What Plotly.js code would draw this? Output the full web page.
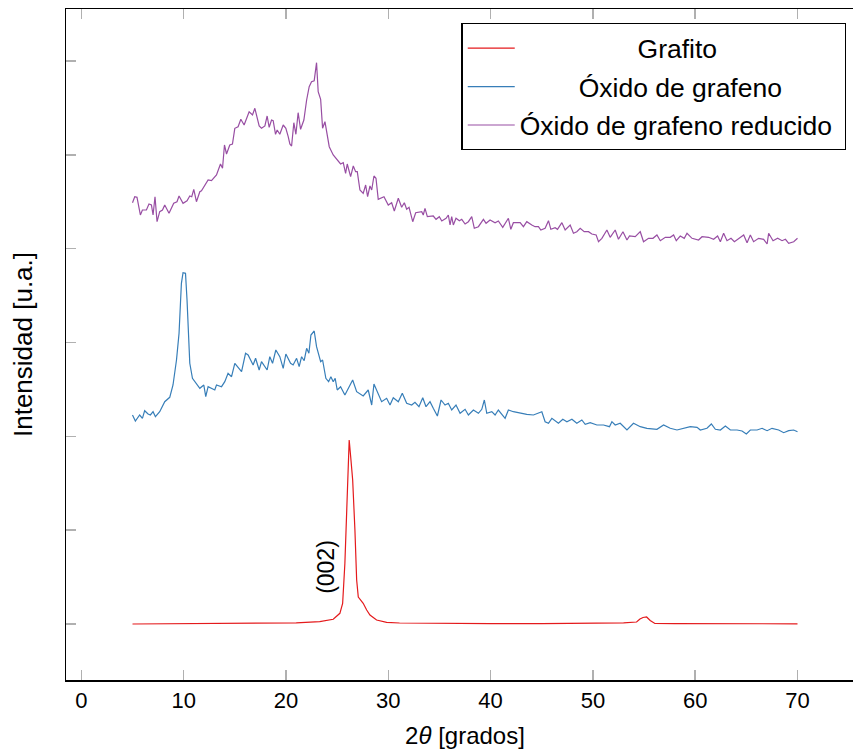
<!DOCTYPE html>
<html>
<head>
<meta charset="utf-8">
<script src="https://cdn.plot.ly/plotly-3.0.1.min.js"></script>
<style>
html,body{margin:0;padding:0;overflow:hidden;background:#fff;}
#chart{width:875px;height:753px;}
</style>
</head>
<body>
<div id="chart"></div>
<script>
// 2θ (degrees) and intensity (arbitrary units, series stacked with offsets)
const grafitoX = [5.0, 8, 12, 16, 18.4, 21, 23.3, 24.62, 25.27, 25.54, 25.76, 25.99, 26.18, 26.32, 26.52, 26.74, 26.91, 27.07, 27.3, 27.55, 27.89, 28.21, 28.86, 29.84, 31.1, 35, 40, 45, 50, 53, 54.27, 54.6, 54.9, 55.25, 55.6, 56.06, 58, 62, 66, 70];
const grafitoY = [0, 0.3, 0.5, 0.6, 0.7, 1.2, 2.3, 4.7, 10.7, 20.7, 60.7, 127, 184, 168, 144, 94, 44, 27, 24, 20.7, 14, 9, 4, 1.7, 1.0, 0.6, 0.4, 0.4, 0.6, 1.2, 2, 5, 6.5, 7, 3.5, 0.5, 0.3, 0.2, 0.2, 0.2];

const goX = [5.0, 5.28, 5.70, 5.97, 6.19, 6.52, 6.75, 7.01, 7.24, 7.66, 8.15, 8.64, 8.96, 9.30, 9.55, 9.78, 9.94, 10.18, 10.33, 10.60, 10.86, 11.25, 11.58, 11.97, 12.16, 12.39, 13.04, 13.21, 13.70, 14.02, 14.34, 14.68, 15.00, 15.66, 16.05, 16.30, 16.79, 17.03, 17.38, 17.61, 17.94, 18.16, 18.42, 18.69, 19.01, 19.40, 19.73, 19.99, 20.45, 20.70, 21.04, 21.29, 21.53, 21.78, 22.02, 22.24, 22.44, 22.76, 22.99, 23.39, 23.58, 23.90, 24.17, 24.39, 24.62, 24.81, 25.01, 25.34, 25.76, 26.09, 26.52, 26.91, 27.55, 28.04, 28.38, 28.60, 29.02, 29.35, 29.84, 30.17, 30.49, 30.98,
  31.37, 31.80, 32.29, 32.61, 33.00, 33.37, 33.69, 34.08, 34.40, 34.80, 35.16, 35.55, 35.87, 36.20, 36.62, 37.02, 37.51, 37.83, 38.32, 38.81, 39.14, 39.39, 39.63, 40.12, 40.44, 40.76, 41.42, 41.74, 42.23, 42.89, 43.54, 44.19, 44.68, 45.01, 45.33, 45.66, 45.99, 46.31, 46.63, 47.06, 47.46, 47.95, 48.43, 48.92, 49.25, 49.74, 50.39, 51.04, 51.62, 51.86, 52.18, 52.67, 53.33, 53.97, 54.63, 55.28, 56.26, 56.91, 57.56, 58.22, 58.86, 59.52, 60.18, 60.50, 61.15, 61.58, 61.97, 62.46, 62.95, 63.44, 64.09, 64.58, 65.00, 65.39, 66.05, 66.54, 67.03, 67.51, 68.16, 68.65, 69.14, 69.63, 70.0];
const goY = [209, 203, 209, 205.7, 213.3, 210, 209, 212.3, 207.3, 212.3, 222.3, 226.7, 239, 264, 290.7, 340.7, 351.3, 350.7, 324, 260.7, 245.7, 240.7, 235.7, 239, 227.3, 237.3, 234, 239, 237.3, 242.3, 250.7, 247.3, 260.7, 252.3, 270.7, 269, 259, 265.7, 254, 262.3, 257.3, 254, 267.3, 260.7, 274, 267.3, 255.7, 270, 260.7, 259, 265.7, 257.3, 267.3, 263.3, 275.7, 270.7, 289, 293, 277.3, 262.3, 264, 245.7, 242.3, 247.3, 242.3, 245.7, 234, 237.3, 229, 235.7, 244, 232.3, 228, 234, 219, 240, 230.7, 222.3, 225.7, 219, 226.3, 222.3,
  230.7, 220.7, 219, 221.7, 217.3, 226.3, 217.3, 222.3, 215.7, 208, 224, 219, 220.7, 214, 219, 210.7, 214.7, 209, 214, 210.7, 214.7, 224, 210.7, 212.3, 209, 214, 205.7, 214, 212.3, 210.7, 209.7, 209, 210.7, 212.3, 202.3, 200.7, 205.7, 203, 200.7, 204.7, 202.3, 204.7, 200.7, 204, 199.7, 201.3, 199, 199, 197.3, 202.3, 199, 200.7, 194, 200.7, 197.3, 195.7, 194.7, 199, 195.7, 194, 195.7, 197.3, 196.7, 194, 195.7, 200, 194.7, 194, 198, 194, 194, 193, 190, 194, 194, 195.7, 193.3, 195.7, 194, 191.3, 193.3, 194, 192.3];

const rgoX = [5.0, 5.22, 5.44, 5.77, 5.97, 6.36, 6.61, 6.85, 7.01, 7.20, 7.40, 7.66, 7.93, 8.15, 8.57, 9.03, 9.35, 9.55, 9.94, 10.33, 10.60, 10.79, 10.99, 11.25, 11.58, 11.74, 12.39, 12.72, 13.21, 13.60, 13.80, 13.99, 14.19, 14.51, 14.77, 15.00, 15.32, 15.59, 15.91, 16.24, 16.40, 16.73, 16.96, 17.38, 17.61, 17.94, 18.16, 18.36, 18.59, 18.75, 18.98, 19.14, 19.40, 19.73, 19.99, 20.22, 20.38, 20.55, 20.77, 20.97, 21.19, 21.43, 21.75, 22.02, 22.27, 22.50, 22.76, 22.99, 23.15, 23.39, 23.58, 23.81, 24.23, 24.62, 25.01, 25.34, 25.60, 25.83, 25.99, 26.32, 26.58, 26.81, 26.97, 27.23, 27.55, 27.79, 27.98, 28.21, 28.38, 28.60, 28.80, 29.02,
  29.58, 30.00, 30.33, 30.59, 30.98, 31.31, 31.57, 31.80, 32.03, 32.39, 32.68, 33.27, 33.42, 33.59, 33.82, 34.40, 34.67, 34.99, 35.23, 35.65, 35.87, 36.04, 36.20, 36.36, 36.62, 36.95, 37.18, 37.51, 37.83, 38.16, 38.41, 38.81, 39.30, 39.56, 39.95, 40.44, 40.76, 41.19, 41.74, 41.98, 42.23, 42.89, 43.21, 43.54, 44.03, 44.35, 44.68, 44.91, 45.33, 45.66, 45.89, 46.31, 46.54, 46.97, 47.29, 47.78, 48.10, 48.43, 48.76, 49.15, 49.57, 49.90, 50.32, 50.55, 50.88, 51.37, 51.69, 52.18, 52.50, 52.94, 53.33, 53.58, 54.14, 54.63, 54.95, 55.44, 55.87, 56.26, 56.59, 57.08, 57.56, 57.89, 58.15, 58.54, 58.93, 59.20, 59.69, 60.33, 60.67, 61.31, 61.80, 62.19, 62.46, 62.78, 63.11, 63.50, 63.83, 64.25, 64.74, 65.07, 65.39, 65.71, 66.20, 66.69, 67.03, 67.18, 67.61, 68.06, 68.49, 68.82, 69.14, 69.63, 70.0];
const rgoY = [421.3, 427.3, 426.7, 409, 414, 414, 420, 419, 409, 427.3, 402.3, 412.3, 414, 419, 410.7, 420.7, 422.3, 428, 420.7, 423.3, 428, 427.3, 434.7, 422.3, 432.3, 433.3, 444, 443.3, 449, 460, 455.7, 479, 470, 479, 480, 495.7, 497.3, 504.7, 499, 509, 512.3, 509, 515.7, 498, 495.7, 498, 508, 496.7, 504, 503.3, 489.7, 494, 489.7, 499, 495.7, 487.3, 480, 478, 501.3, 489.7, 511.3, 494.7, 504, 524, 537.3, 542.3, 543.3, 561.3, 532.3, 524.7, 495.7, 502.3, 477.3, 469, 464, 460, 461.3, 450.7, 460, 447.3, 458, 452.3, 452.3, 434, 430.7, 439, 427.3, 438, 434, 448, 445.7, 424.7,
  427.3, 419, 421.3, 413, 425.7, 416.7, 421.3, 414.7, 416.7, 402.3, 411.3, 412.3, 409, 415.7, 407.3, 408, 404.7, 407.3, 403, 405.7, 409, 399, 407.3, 399, 405.7, 403.3, 404.7, 400, 402.3, 407.3, 395.7, 397.3, 404.7, 400.7, 404, 401.3, 403, 396.7, 405.7, 394.7, 401.3, 401.3, 397.3, 402.3, 399, 397.3, 397.3, 394, 395.7, 403.3, 394.7, 396.3, 394.7, 401.3, 394, 399, 390.7, 392.3, 395.7, 392.3, 392.3, 390, 389, 382.3, 385.7, 394, 386.7, 394, 384.7, 392.3, 384, 388, 387.3, 392.3, 382.3, 385.7, 385.7, 389, 383.3, 386.7, 386.7, 389, 383.3, 388, 385.7, 390.7, 385.7, 384, 387.3, 386.7, 384.7, 388, 382.3, 390.7, 383.3, 385.7, 382.3, 385.7, 389, 381.3, 389, 382.3, 385.7, 384.7, 380, 390.7, 383.3, 385.7, 383.3, 384.7, 380.7, 382.3, 385.7];

const seriesNames = ['Grafito', 'Óxido de grafeno', 'Óxido de grafeno reducido'];
const seriesColors = ['#e41a1c', '#377eb8', '#984ea3'];
const xTicks = [0, 10, 20, 30, 40, 50, 60, 70];
const peakLabel = {text: '(002)', x: 23.93, y: 57.3};

const FONT = 'Liberation Sans, Arial, sans-serif';
const NB = '\u00a0';
// legend entries are centred in the reference; pad them to mimic that
const legendPad = [16, 8, 0];
const traces = [
  {x: grafitoX, y: grafitoY},
  {x: goX, y: goY},
  {x: rgoX, y: rgoY}
].map((t, i) => Object.assign(t, {
  type: 'scatter', mode: 'lines', name: NB.repeat(legendPad[i]) + seriesNames[i] + NB,
  legendgroup: 'g' + i,
  line: {color: seriesColors[i], width: 1.2}, hoverinfo: 'skip'
}));

const layout = {
  width: 875, height: 753,
  margin: {l: 66, r: 11, t: 9, b: 73},
  paper_bgcolor: '#fff', plot_bgcolor: '#fff',
  showlegend: true,
  font: {family: FONT, color: '#000'},
  xaxis: {
    range: [-1.5, 76.5], tickvals: xTicks, ticktext: xTicks.map(String),
    ticks: 'inside', ticklen: 10, tickwidth: 1.5, tickcolor: '#b0b0b0',
    showline: true, linecolor: '#000', linewidth: 1.5, mirror: 'ticks',
    showgrid: false, zeroline: false,
    tickfont: {size: 22, family: FONT},
    title: {text: '2<i>θ</i> [grados]', font: {size: 24, family: FONT}, standoff: 15}
  },
  yaxis: {
    range: [-56, 615], tick0: 0, dtick: 93.83,
    ticks: 'inside', ticklen: 10, tickwidth: 1.5, tickcolor: '#b0b0b0',
    showticklabels: false,
    showline: true, linecolor: '#000', linewidth: 1.5, mirror: 'ticks',
    showgrid: false, zeroline: false,
    title: {text: 'Intensidad [u.a.]', font: {size: 26, family: FONT}, standoff: 24}
  },
  legend: {
    x: 0.978, y: 0.979, xanchor: 'right', yanchor: 'top',
    bgcolor: '#fff', bordercolor: '#000', borderwidth: 1.3,
    font: {size: 26.5, family: FONT}, itemwidth: 47, tracegroupgap: 1
  },
  annotations: [{
    x: peakLabel.x, y: peakLabel.y, xref: 'x', yref: 'y', text: peakLabel.text,
    showarrow: false, textangle: -90, font: {size: 23, family: FONT}
  }]
};

Plotly.newPlot('chart', traces, layout, {displayModeBar: false, staticPlot: true});
</script>
</body>
</html>
